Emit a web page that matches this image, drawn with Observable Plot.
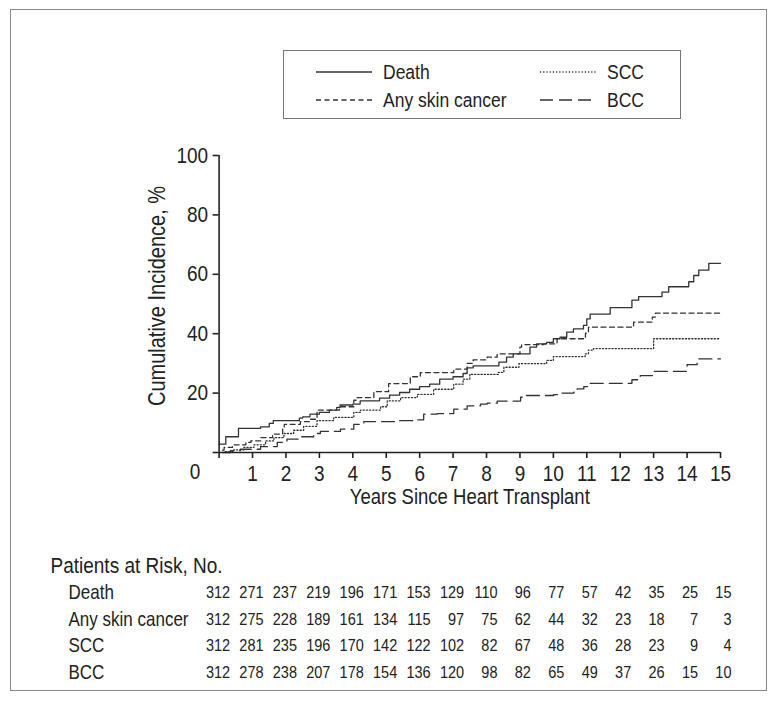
<!DOCTYPE html>
<html><head><meta charset="utf-8">
<script src="https://cdn.jsdelivr.net/npm/d3@7"></script>
<script src="https://cdn.jsdelivr.net/npm/@observablehq/plot@0.6"></script>
<style>
body{margin:0;background:#fff;}
#wrap{position:relative;width:779px;height:703px;font-family:"Liberation Sans",Arial,sans-serif;color:#222;}
#border{position:absolute;left:10px;top:9px;width:757px;height:682px;border:1.5px solid #888;box-sizing:border-box;}
#legend{position:absolute;left:283px;top:50px;width:398px;height:69px;border:1.5px solid #777;box-sizing:border-box;}
#chart{position:absolute;left:0;top:0;}
</style></head>
<body><div id="wrap"><div id="border"></div><div id="chart"></div><svg id="legend"></svg></div>
<script>
// ---- data ----
const years = d3.range(0, 16);
const yTicks = [0, 20, 40, 60, 80, 100];
const seriesNames = ["Death", "Any skin cancer", "SCC", "BCC"];
const death = [[0,2.8],[0.2,5.3],[0.58,8.1],[1.24,8.6],[1.5,9.8],[1.62,10.7],[2.4,11.6],[2.5,12],[2.72,12.9],[3.0,13.5],[3.3,14.3],[3.52,15.2],[3.62,16],[4.0,16.3],[4.22,17.4],[4.8,18.3],[5.1,19.3],[5.4,20.2],[5.7,21.3],[6.0,22.2],[6.3,23],[6.6,24.7],[7.0,25.5],[7.3,26.6],[7.42,28.5],[7.6,29.2],[8.37,30.4],[8.6,32.1],[8.8,33.2],[9.3,35.5],[9.5,36.6],[9.8,37.1],[10.0,38.3],[10.2,38.8],[10.4,40.5],[10.6,41.6],[10.9,42.8],[11.0,45],[11.1,46.6],[11.7,48.8],[12.35,51.3],[12.55,52.5],[13.25,54],[13.45,55.8],[14.05,57.5],[14.2,59.6],[14.35,61.4],[14.65,63.7],[15,63.7]];
const anySkin = [[0.1,0.8],[0.15,1.7],[0.4,2.6],[0.8,3.4],[0.95,3.9],[1.25,5],[1.6,6.2],[1.9,7.9],[1.95,9.5],[2.43,10.4],[2.7,11.2],[2.93,14.3],[3.6,15.4],[4.03,17.6],[4.13,18.5],[4.63,20.5],[5.07,23.2],[5.72,25.5],[6.02,26.9],[7.02,28.1],[7.42,30],[7.6,31.2],[8.02,32.1],[8.32,33.2],[9.0,35.5],[9.05,36.3],[9.71,36.6],[10.11,38.3],[10.96,40.2],[11.05,42.2],[12.4,43.9],[12.96,45.6],[13.05,46.9],[15,46.9]];
const scc = [[0.19,0.3],[0.44,0.9],[0.74,1.7],[1.04,2.6],[1.39,3.9],[1.64,5],[1.94,6.4],[2.23,7.5],[2.53,8.8],[2.93,10.7],[3.43,11.8],[4.03,13.5],[4.23,14.3],[4.83,15.4],[5.03,17.4],[5.43,18.5],[5.93,19.6],[6.42,21.3],[7.02,23],[7.3,24.7],[7.5,26.3],[8.35,27],[8.52,28.7],[8.97,29.9],[9.8,31],[10.0,32.3],[10.95,33.2],[11.05,34.5],[11.2,35],[13.0,38.3],[15,38.3]];
const bcc = [[0.1,0],[0.34,0.6],[0.64,1.1],[1.24,2],[1.74,3.4],[2.03,4.5],[2.43,5.3],[2.83,6.4],[3.03,7.1],[3.63,7.9],[4.03,9.5],[4.33,10.4],[5.4,10.7],[5.82,11],[6.12,12.9],[6.52,13.1],[7.02,14.6],[7.42,15.7],[7.82,16.3],[8.02,16.6],[8.32,17.3],[9.02,18.6],[9.12,19.2],[10.01,19.5],[10.21,20],[10.61,20.3],[10.71,21.4],[10.91,22.2],[11.06,23.3],[12.35,24.5],[12.6,25.9],[13.0,27.3],[14.0,29.6],[14.3,31.5],[15,31.5]];
const riskDeath = [312,271,237,219,196,171,153,129,110,96,77,57,42,35,25,15];
const riskAny = [312,275,228,189,161,134,115,97,75,62,44,32,23,18,7,3];
const riskScc = [312,281,235,196,170,142,122,102,82,67,48,36,28,23,9,4];
const riskBcc = [312,278,238,207,178,154,136,120,98,82,65,49,37,26,15,10];

// ---- styles ----
const ink = "#222";
const dashes = {"Death": null, "Any skin cancer": "5,3.5", "SCC": "1.2,2", "BCC": "13,6"};
const font = '"Liberation Sans",Arial,sans-serif';

const curves = [death, anySkin, scc, bcc];
const riskRows = [riskDeath, riskAny, riskScc, riskBcc];
const rowDy = [140, 167, 193, 220];

const marks = [];
curves.forEach((c, i) => {
  marks.push(Plot.line(c, {x: d => d[0], y: d => d[1], curve: "step-after", stroke: "#333", strokeWidth: 1.3, strokeDasharray: dashes[seriesNames[i]]}));
});
marks.push(
  Plot.ruleX([0], {y1: 0, y2: 100, stroke: ink, strokeWidth: 1.6}),
  Plot.ruleY([0], {x1: 0, x2: 15, stroke: ink, strokeWidth: 1.6}),
  Plot.axisY(yTicks, {tickSize: 6, tickPadding: 5, stroke: ink, strokeWidth: 1.6, fontSize: 19, fill: ink, tickFormat: d => d === 0 ? "" : d, label: null}),
  Plot.axisX(years, {tickSize: 6, tickPadding: 7, stroke: ink, strokeWidth: 1.6, fontSize: 19, fill: ink, tickFormat: d => d === 0 ? "" : d, label: null}),
  Plot.text(["0"], {x: 0, y: 0, text: d => d, dx: -24, dy: 19, fontSize: 19, fill: ink}),
  Plot.text(["Years Since Heart Transplant"], {frameAnchor: "bottom", text: d => d, lineAnchor: "middle", dy: 45, fontSize: 18.5, fill: ink}),
  Plot.text(["Cumulative Incidence, %"], {frameAnchor: "left", text: d => d, textAnchor: "middle", lineAnchor: "middle", rotate: -90, dx: -62, dy: -8, fontSize: 20, fill: ink}),
  Plot.text(["Patients at Risk, No."], {frameAnchor: "bottom-left", text: d => d, textAnchor: "start", lineAnchor: "middle", dx: -168.6, dy: 113, fontSize: 19, fill: ink})
);
riskRows.forEach((row, i) => {
  marks.push(Plot.text([seriesNames[i]], {frameAnchor: "bottom-left", text: d => d, textAnchor: "start", lineAnchor: "middle", dx: -150.6, dy: rowDy[i], fontSize: 17, fill: ink}));
  marks.push(Plot.text(row, {x: (d, j) => years[j], frameAnchor: "bottom", text: d => d, textAnchor: "end", lineAnchor: "middle", dx: 11, dy: rowDy[i], fontSize: 14.5, fill: ink}));
});

const chart = Plot.plot({
  width: 779, height: 703,
  marginLeft: 218.6, marginRight: 59, marginTop: 155, marginBottom: 251,
  x: {domain: [0, 15]},
  y: {domain: [0, 100]},
  style: {fontFamily: font, background: "transparent", color: ink},
  marks
});
document.getElementById("chart").appendChild(chart);

// legend
const lg = d3.select("#legend");
const items = [
  {name: "Death", x: 32, y: 21},
  {name: "Any skin cancer", x: 32, y: 49},
  {name: "SCC", x: 256, y: 21},
  {name: "BCC", x: 256, y: 49}
];
items.forEach(it => {
  lg.append("line").attr("x1", it.x).attr("x2", it.x + 56).attr("y1", it.y).attr("y2", it.y)
    .attr("stroke", "#333").attr("stroke-width", 1.3).attr("stroke-dasharray", dashes[it.name]);
  lg.append("text").attr("x", it.x + 67).attr("y", it.y).attr("dy", "0.35em")
    .attr("font-family", font).attr("font-size", 17.5).attr("fill", ink).text(it.name);
});

// condensed look: taller glyphs at the same text width
const stretch = 1.17;
document.querySelectorAll("#wrap text").forEach(el => {
  const w = el.getComputedTextLength();
  if (!w) return;
  const fs = parseFloat(getComputedStyle(el).fontSize);
  el.style.fontSize = (fs * stretch) + "px";
  el.setAttribute("textLength", w);
  el.setAttribute("lengthAdjust", "spacingAndGlyphs");
});
</script></body></html>
